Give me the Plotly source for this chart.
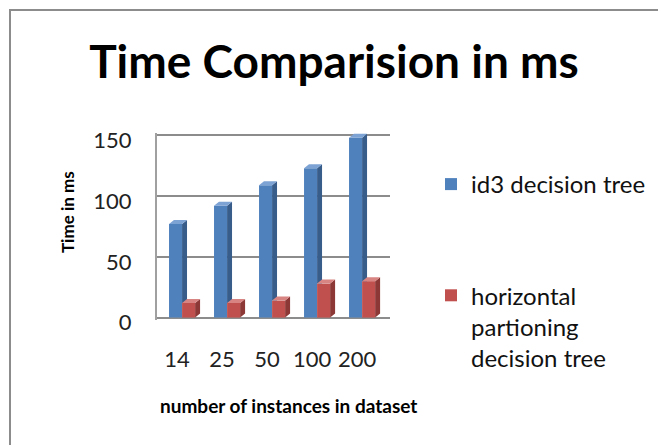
import plotly.graph_objects as go

categories = ["14", "25", "50", "100", "200"]
id3_values = [77, 92, 109, 123, 148]
hp_values = [12, 12, 14, 28, 30]
series_names = ["id3 decision tree", "horizontal<br>partioning<br>decision tree"]
y_ticks = [0, 50, 100, 150]

W, H = 658, 445
ML, MR, MT, MB = 157, 268, 133, 125
PW, PH = W - ML - MR, H - MT - MB

FONT = "Lato"
BLUE, BLUE_SIDE, BLUE_TOP = "#4F81BD", "#385D8A", "#7DA2D4"
RED, RED_SIDE, RED_TOP = "#C0504D", "#8C3836", "#D88482"
GRID = "#8C8C8C"

BAR_W = 0.29   # bar width (category units)
DX = 0.11      # 3D depth offset, x (category units)
DY = 3.3       # 3D depth offset, y (value units)

xs = list(range(len(categories)))

fig = go.Figure()
fig.add_trace(go.Bar(x=xs, y=id3_values, width=BAR_W, offset=-BAR_W,
                     marker=dict(color=BLUE, line=dict(width=0)),
                     name=series_names[0], legendgroup="a"))
fig.add_trace(go.Bar(x=xs, y=hp_values, width=BAR_W, offset=0,
                     marker=dict(color=RED, line=dict(width=0)),
                     name=series_names[1], legendgroup="b"))


def faces(lefts, vals, clips):
    sx, sy, tx, ty = [], [], [], []
    for xl, v, c in zip(lefts, vals, clips):
        xr = xl + BAR_W
        if c is None:
            sx += [xr, xr + DX, xr + DX, xr, xr, None]
            sy += [0, DY, v + DY, v, 0, None]
        else:
            sx += [xr, xr + DX, xr + DX, xr, xr, None]
            sy += [c, c, v + DY, v, c, None]
        tx += [xl, xl + DX, xr + DX, xr, xl, None]
        ty += [v, v + DY, v + DY, v, v, None]
    return sx, sy, tx, ty


blue_lefts = [x - BAR_W for x in xs]
red_lefts = list(xs)
for lefts, vals, clips, cs, ct in [
    (blue_lefts, id3_values, hp_values, BLUE_SIDE, BLUE_TOP),
    (red_lefts, hp_values, [None] * len(xs), RED_SIDE, RED_TOP),
]:
    sx, sy, tx, ty = faces(lefts, vals, clips)
    fig.add_trace(go.Scatter(x=sx, y=sy, mode="lines", fill="toself", fillcolor=cs,
                             line=dict(width=0, color=cs), hoverinfo="skip", showlegend=False))
    fig.add_trace(go.Scatter(x=tx, y=ty, mode="lines", fill="toself", fillcolor=ct,
                             line=dict(width=0, color=ct), hoverinfo="skip", showlegend=False))

# outer chart border (left/top visible; rest beyond the picture)
bx0 = (10 - ML) / PW
by1 = 1 + (MT - 10) / PH
fig.add_shape(type="rect", xref="paper", yref="paper", x0=bx0, x1=bx0 + 6.0,
              y0=by1 - 6.0, y1=by1, line=dict(color="#8C8C8C", width=2),
              fillcolor="rgba(0,0,0,0)", layer="below")

# axis titles
fig.add_annotation(text="<b>number of instances in dataset</b>", xref="paper", yref="paper",
                   x=(288 - ML) / PW, y=1 - (405 - MT) / PH, xanchor="center", yanchor="middle",
                   showarrow=False, font=dict(size=19, color="black", family=FONT))
fig.add_annotation(text="<b>Time in ms</b>", xref="paper", yref="paper", textangle=-90,
                   x=(67 - ML) / PW, y=1 - (212 - MT) / PH, xanchor="center", yanchor="middle",
                   showarrow=False, font=dict(size=17, color="black", family=FONT))

fig.update_layout(
    width=W, height=H,
    margin=dict(l=ML, r=MR, t=MT, b=MB, autoexpand=False),
    paper_bgcolor="white", plot_bgcolor="white",
    font=dict(family=FONT, color="#222"),
    barmode="overlay",
    title=dict(text="<b>Time Comparision in ms</b>", x=334 / W, xanchor="center",
               y=1 - 62 / H, yanchor="middle", font=dict(size=46, color="black", family=FONT)),
    legend=dict(x=(431 - ML) / PW, xanchor="left", y=1 - (162 - MT) / PH, yanchor="top",
                font=dict(size=24, color="#111", family=FONT), tracegroupgap=77,
                valign="top", bgcolor="rgba(0,0,0,0)", maxheight=400),
    showlegend=True,
)
fig.update_xaxes(range=[-0.557, 4.62], tickvals=xs, ticktext=categories, showgrid=False,
                 showline=False, zeroline=False, ticks="", tickfont=dict(size=22, color="#222"),
                 ticklabelstandoff=24, ticklabelshift=-5, automargin=False)
fig.update_yaxes(range=[-2, 152], tickvals=y_ticks, showgrid=True, gridcolor=GRID, gridwidth=2,
                 zeroline=False, showline=True, linecolor="#A0A0A0", linewidth=2, ticks="",
                 tickfont=dict(size=22, color="#222"), ticklabelstandoff=19, ticklabelshift=5,
                 automargin=False)

fig.write_html("out.html", config={"displayModeBar": False},
               post_script="document.body.style.margin='0px';")
